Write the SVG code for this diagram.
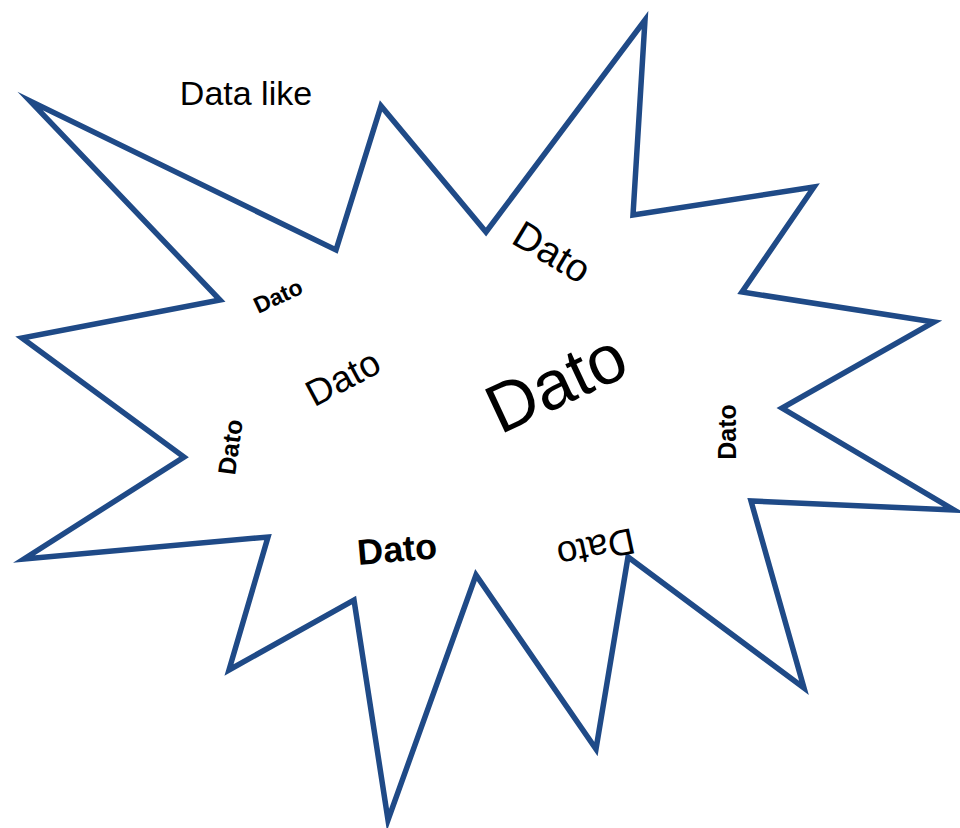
<svg xmlns="http://www.w3.org/2000/svg" width="960" height="828" viewBox="0 0 960 828">
<style>
.star{fill:#fff;stroke:#1f4a87;stroke-width:5.5;stroke-linejoin:miter;stroke-miterlimit:20}
.t{font-family:"Liberation Sans","DejaVu Sans",sans-serif;fill:#000;text-anchor:middle;dominant-baseline:central}
.b{font-weight:bold}
</style>
<rect width="960" height="828" fill="#fff"/>
<g id="star">
<polygon class="star" points="30,101 336,250 381,106 486,232 645,20 633,215 814,187 742,292 934,322 782,408 954,510 751,501 804,688 628,557 596,749 476,575 388,820 354,600 229,670 268,537 24,559 184,457 22,338 220,300"/>
</g>
<g id="title"><text class="t" x="246" y="93" font-size="34">Data like</text></g>
<g id="words">
<text class="t" transform="translate(552,252) rotate(31)" font-size="39">Dato</text>
<text class="t" transform="translate(556,383) rotate(-25)" font-size="69">Dato</text>
<text class="t" transform="translate(343,378) rotate(-28)" font-size="37">Dato</text>
<text class="t b" transform="translate(278,296) rotate(-25)" font-size="23">Dato</text>
<text class="t b" transform="translate(230,447) rotate(-82)" font-size="25">Dato</text>
<text class="t b" transform="translate(397,549) rotate(-5)" font-size="36">Dato</text>
<text class="t b" transform="translate(727,432) rotate(-90)" font-size="25">Dato</text>
<text class="t" transform="translate(596,548) rotate(168)" font-size="37">Dato</text>
</g>
</svg>
